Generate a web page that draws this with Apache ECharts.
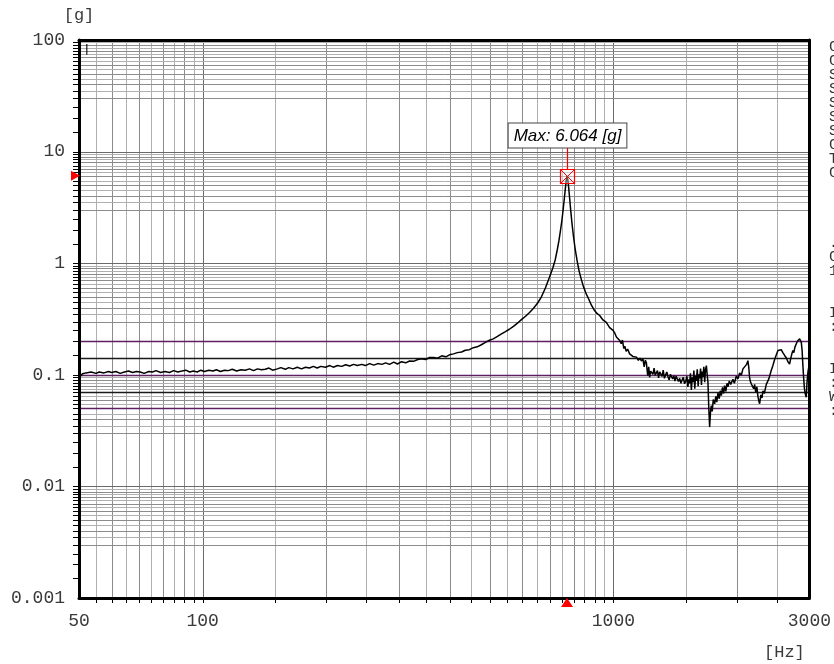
<!DOCTYPE html>
<html><head><meta charset="utf-8">
<script src="https://cdn.jsdelivr.net/npm/echarts@6/dist/echarts.min.js"></script>
<style>html,body{margin:0;padding:0;background:#fff}#c{width:834px;height:664px}</style>
</head><body><div id="c"></div>
<script>
// ---- data ----
const freqHz = [
  50, 51, 52, 53.5, 55, 56, 57.5, 59, 60, 61.5, 63, 64.5, 66, 67.5, 69, 70.5, 72, 74, 75.5, 77,
  79, 81, 83, 85, 87, 89, 91, 93, 95, 97, 99,
  101, 103.5, 106, 108, 110.5, 113, 115.5, 118, 121, 124, 127, 130, 133, 136, 139, 142, 145, 148, 152, 155,
  159, 162, 166, 170, 174, 178, 182, 186, 190, 194, 199,
  204, 208, 213, 218, 223, 228, 233, 238, 244, 249, 255, 261, 267, 273, 279, 285, 292, 298, 305, 312,
  319, 326, 334, 341, 349, 357, 365, 373, 382, 391, 399,
  408, 417, 427, 436, 446, 456, 466, 477, 488, 499, 510, 522, 534, 546, 558, 571, 584, 597, 611, 625,
  639, 654, 668, 683, 698, 713, 722, 730, 737, 743, 749, 755, 760, 764, 768, 771, 774, 778, 782, 787,
  793, 800, 808, 816, 825, 835, 845, 857, 870, 884, 898, 912, 926, 943, 961, 979, 998,
  1008, 1017, 1027, 1036, 1045, 1052, 1060, 1066, 1074, 1083, 1095, 1104, 1115, 1126, 1138, 1150, 1160, 1170, 1180, 1188,
  1196, 1203, 1212, 1219,
  1225, 1232, 1240, 1248, 1256, 1264, 1272, 1280, 1288, 1296, 1305, 1314, 1322, 1331, 1340, 1349, 1358, 1367, 1376, 1385,
  1394, 1403, 1412, 1421, 1430, 1440, 1450, 1460, 1470, 1480, 1490, 1500, 1510, 1518, 1526, 1533, 1540, 1548, 1556, 1563,
  1570, 1578, 1585, 1592, 1600, 1608, 1615, 1622, 1630, 1638, 1645, 1652, 1660, 1668, 1676, 1684, 1692, 1699,
  1707, 1715, 1723, 1731, 1740, 1750, 1764, 1775, 1785, 1797, 1810, 1820, 1831, 1843, 1855, 1865, 1878, 1890, 1900, 1915,
  1930, 1954, 1970, 1991, 2010, 2029, 2048, 2067, 2090, 2110, 2125, 2135, 2145, 2155, 2166, 2180, 2195, 2207, 2220, 2235,
  2248, 2260, 2270, 2285, 2300, 2312, 2330, 2356, 2375, 2390, 2400, 2420, 2445, 2470, 2490, 2515, 2540, 2562, 2585, 2611,
  2635, 2660, 2685, 2700, 2720, 2735, 2750, 2765, 2788, 2805, 2825, 2840, 2855, 2867, 2880, 2893, 2904, 2918, 2930, 2948,
  2960, 2975, 2990, 3000
];
const accelG = [
  0.094, 0.102, 0.104, 0.106, 0.103, 0.106, 0.104, 0.107, 0.105, 0.107, 0.103, 0.106, 0.108, 0.105, 0.107, 0.106, 0.103, 0.107, 0.106, 0.109,
  0.105, 0.107, 0.105, 0.109, 0.106, 0.108, 0.110, 0.106, 0.108, 0.106, 0.110,
  0.107, 0.110, 0.108, 0.111, 0.107, 0.110, 0.109, 0.112, 0.108, 0.111, 0.110, 0.113, 0.109, 0.113, 0.111, 0.112, 0.115, 0.110, 0.113, 0.116,
  0.112, 0.116, 0.113, 0.117, 0.113, 0.117, 0.115, 0.119, 0.115, 0.119, 0.117,
  0.121, 0.117, 0.121, 0.119, 0.123, 0.120, 0.124, 0.121, 0.124, 0.121, 0.126, 0.122, 0.126, 0.124, 0.128, 0.124, 0.130, 0.125, 0.131, 0.128,
  0.133, 0.132, 0.137, 0.139, 0.137, 0.143, 0.143, 0.141, 0.148, 0.145, 0.151,
  0.154, 0.158, 0.160, 0.166, 0.168, 0.175, 0.178, 0.186, 0.195, 0.204, 0.210, 0.221, 0.233, 0.244, 0.256, 0.272, 0.290, 0.312, 0.335, 0.362,
  0.395, 0.44, 0.50, 0.60, 0.74, 0.92, 1.08, 1.32, 1.6, 1.95, 2.4, 3.1, 3.9, 4.7, 5.6, 6.064, 5.7, 4.8, 3.9, 3.0,
  2.25, 1.7, 1.3, 1.05, 0.85, 0.72, 0.62, 0.54, 0.48, 0.42, 0.38, 0.355, 0.34, 0.31, 0.295, 0.265, 0.25,
  0.236, 0.218, 0.225, 0.203, 0.19, 0.205, 0.172, 0.18, 0.162, 0.17, 0.154, 0.16, 0.146, 0.152, 0.144, 0.135, 0.141, 0.133, 0.139, 0.118,
  0.135, 0.128, 0.098, 0.118,
  0.095, 0.108, 0.112, 0.101, 0.115, 0.099, 0.104, 0.109, 0.094, 0.106, 0.103, 0.097, 0.11, 0.093, 0.1, 0.106, 0.096, 0.09, 0.101, 0.104,
  0.092, 0.098, 0.088, 0.097, 0.101, 0.087, 0.093, 0.084, 0.09, 0.095, 0.083, 0.088, 0.097, 0.078, 0.091, 0.084, 0.103, 0.073, 0.095, 0.086,
  0.109, 0.075, 0.098, 0.088, 0.112, 0.079, 0.101, 0.093, 0.114, 0.081, 0.107, 0.096, 0.118, 0.086, 0.112, 0.121, 0.099, 0.085,
  0.05, 0.034, 0.046, 0.053, 0.047, 0.06, 0.055, 0.064, 0.057, 0.069, 0.061, 0.072, 0.065, 0.077, 0.068, 0.08, 0.071, 0.084, 0.078, 0.088,
  0.082, 0.091, 0.084, 0.097, 0.092, 0.104, 0.099, 0.113, 0.109, 0.124, 0.134, 0.118, 0.095, 0.087, 0.083, 0.086, 0.075, 0.082, 0.07, 0.078,
  0.064, 0.058, 0.055, 0.066, 0.062, 0.072, 0.068, 0.082, 0.079, 0.092, 0.095, 0.108, 0.121, 0.138, 0.15, 0.165, 0.171, 0.168, 0.158, 0.149,
  0.142, 0.131, 0.125, 0.138, 0.155, 0.165, 0.158, 0.176, 0.19, 0.2, 0.205, 0.21, 0.206, 0.195, 0.165, 0.12, 0.095, 0.075, 0.068, 0.063,
  0.085, 0.105, 0.118, 0.125
];
const xTickLabels = [50, 100, 1000, 3000];
const yTickLabels = [0.001, 0.01, 0.1, 1, 10, 100];
const peakFreq = [771];
const peakValue = [6.064];
const purpleRefLines = [0.2, 0.1, 0.05];
const blackRefLines = [0.1414, 0.0707];
const sideTextRows = ['C', 'C', 'S', 'S', 'S', 'S', 'S', 'C', 'T', 'C', '', '', '', '', '.', 'C', '1', '', '', 'I', ':', '', '', 'I', ':', 'W', ':'];

// ---- axis extents & grid structure ----
const X_MIN = 50, X_MAX = 3000, Y_MIN = 0.001, Y_MAX = 100;
const halfSteps = [1.5, 2, 2.5, 3, 3.5, 4, 4.5, 5, 5.5, 6, 6.5, 7, 7.5, 8, 8.5, 9, 9.5];
const xGrid = [];
[10, 100, 1000].forEach(d => {
  [1].concat(halfSteps).forEach(m => { const v = m * d; if (v > X_MIN && v < X_MAX) xGrid.push([v, 1, m === 1 ? 2 : (Number.isInteger(m) ? 1 : 0)]); });
});
const yGrid = [];
const yTicks = [];
[0.001, 0.01, 0.1, 1, 10].forEach(d => {
  if (d > Y_MIN) yGrid.push([X_MIN, d, 2]);
  halfSteps.forEach(m => {
    const v = +(m * d).toPrecision(3);
    if (m >= 3) yGrid.push([X_MIN, v, Number.isInteger(m) ? 1 : 0]);
    yTicks.push([X_MIN, v]);
  });
  if (d > Y_MIN) yTicks.push([X_MIN, d]);
});
const refLines = purpleRefLines.map(v => [X_MIN, v, 1]).concat(blackRefLines.map(v => [X_MIN, v, 0]));

const crisp = v => Math.round(v) + 0.5;
const gridColors = ['#b0b0b0', '#8c8c8c', '#6a6a6a'];

function renderVGrid(params, api) {
  const v = api.value(0), kind = api.value(2);
  const a = api.coord([v, Y_MAX]), b = api.coord([v, Y_MIN]);
  const x = crisp(a[0]);
  return { type: 'group', children: [
    { type: 'line', shape: { x1: x, y1: a[1], x2: x, y2: b[1] }, style: { stroke: gridColors[kind], lineWidth: 1 } },
    { type: 'line', shape: { x1: x, y1: b[1], x2: x, y2: b[1] + 5 }, style: { stroke: '#000', lineWidth: 1 } }
  ] };
}
function renderHGrid(params, api) {
  const v = api.value(1), kind = api.value(2);
  const a = api.coord([X_MIN, v]), b = api.coord([X_MAX, v]);
  const y = crisp(a[1]);
  return { type: 'line', shape: { x1: a[0], y1: y, x2: b[0], y2: y }, style: { stroke: gridColors[kind], lineWidth: 1 } };
}
function renderYTick(params, api) {
  const p = api.coord([X_MIN, api.value(1)]);
  const y = crisp(p[1]);
  return { type: 'line', shape: { x1: p[0] - 6, y1: y, x2: p[0], y2: y }, style: { stroke: '#000', lineWidth: 1 } };
}
function renderRef(params, api) {
  const v = api.value(1), purple = api.value(2);
  const a = api.coord([X_MIN, v]), b = api.coord([X_MAX, v]);
  const y = Math.round(a[1]) + 0.5;
  return { type: 'line', shape: { x1: a[0], y1: y, x2: b[0], y2: y },
    style: { stroke: purple ? '#5e1f63' : '#1a1a1a', lineWidth: purple ? 1.6 : 1.3 } };
}
function renderPeak(params, api) {
  const f = api.value(0), g = api.value(1);
  const p = api.coord([f, g]);
  const pb = api.coord([f, Y_MIN]);
  const pl = api.coord([X_MIN, g]);
  const s = 7, red = '#ff0000';
  const cx = Math.round(p[0]) + 0.5, cy = Math.round(p[1]) + 0.5;
  const labelBottom = cy - s - 22;
  return { type: 'group', children: [
    { type: 'rect', shape: { x: cx - s, y: cy - s, width: 2 * s, height: 2 * s }, style: { fill: 'rgba(255,255,255,0.35)', stroke: red, lineWidth: 1.2 } },
    { type: 'line', shape: { x1: cx - s, y1: cy - s, x2: cx + s, y2: cy + s }, style: { stroke: red, lineWidth: 1 } },
    { type: 'line', shape: { x1: cx + s, y1: cy - s, x2: cx - s, y2: cy + s }, style: { stroke: red, lineWidth: 1 } },
    { type: 'line', shape: { x1: cx, y1: cy - s, x2: cx, y2: labelBottom }, style: { stroke: red, lineWidth: 1.2 } },
    { type: 'text', x: cx, y: labelBottom, style: {
        text: 'Max: ' + g.toFixed(3) + ' [g]', fill: '#000',
        font: 'italic 17px "Liberation Sans", Arial, sans-serif',
        align: 'center', verticalAlign: 'bottom',
        backgroundColor: '#fff', borderColor: '#444', borderWidth: 1, padding: [4, 5, 3, 5] } },
    { type: 'polygon', shape: { points: [[pl[0] + 1, pl[1]], [pl[0] - 8, pl[1] - 5], [pl[0] - 8, pl[1] + 5]] }, style: { fill: red } },
    { type: 'polygon', shape: { points: [[pb[0], pb[1]], [pb[0] - 6, pb[1] + 9], [pb[0] + 6, pb[1] + 9]] }, style: { fill: red } }
  ] };
}

const monoFont = '"Liberation Mono", "Courier New", monospace';
const frameLine = { show: true, onZero: false, lineStyle: { color: '#000', width: 3 } };

const chart = echarts.init(document.getElementById('c'), null, { renderer: 'canvas' });
chart.setOption({
  animation: false,
  backgroundColor: '#fff',
  grid: { left: 79, right: 23, top: 40, bottom: 66, containLabel: false },
  xAxis: [
    { type: 'log', logBase: 10, min: X_MIN, max: X_MAX, position: 'bottom', z: 10,
      axisLine: frameLine, axisTick: { show: false }, splitLine: { show: false }, minorSplitLine: { show: false },
      axisLabel: { customValues: xTickLabels, margin: 14, color: '#3a3a3a', fontFamily: monoFont, fontSize: 18,
        formatter: v => String(Math.round(v)) },
      name: '[Hz]', nameLocation: 'end', nameGap: -25,
      nameTextStyle: { fontFamily: monoFont, fontSize: 17, color: '#3a3a3a', align: 'center', verticalAlign: 'top', padding: [46, 0, 0, 0] } },
    { type: 'log', logBase: 10, min: X_MIN, max: X_MAX, position: 'top', z: 10,
      axisLine: frameLine, axisTick: { show: false }, axisLabel: { show: false }, splitLine: { show: false } }
  ],
  yAxis: [
    { type: 'log', logBase: 10, min: Y_MIN, max: Y_MAX, position: 'left', z: 10,
      axisLine: frameLine, axisTick: { show: false }, splitLine: { show: false },
      axisLabel: { customValues: yTickLabels, margin: 14, color: '#3a3a3a', fontFamily: monoFont, fontSize: 18,
        formatter: v => { const e = Math.round(Math.log10(v)); return e >= 0 ? String(Math.pow(10, e)) : Math.pow(10, e).toFixed(-e); } },
      name: '[g]', nameLocation: 'end', nameGap: 16,
      nameTextStyle: { fontFamily: monoFont, fontSize: 17, color: '#3a3a3a', align: 'center' } },
    { type: 'log', logBase: 10, min: Y_MIN, max: Y_MAX, position: 'right', z: 10,
      axisLine: frameLine, axisTick: { show: false }, axisLabel: { show: false }, splitLine: { show: false } }
  ],
  series: [
    { type: 'custom', name: 'xGrid', renderItem: renderVGrid, data: xGrid, encode: { x: 0, y: 1 }, silent: true, z: 1 },
    { type: 'custom', name: 'yGrid', renderItem: renderHGrid, data: yGrid, encode: { x: 0, y: 1 }, silent: true, z: 1 },
    { type: 'custom', name: 'yTicks', renderItem: renderYTick, data: yTicks, encode: { x: 0, y: 1 }, silent: true, z: 1 },
    { type: 'custom', name: 'refLines', renderItem: renderRef, data: refLines, encode: { x: 0, y: 1 }, silent: true, z: 2 },
    { type: 'line', name: 'Response', data: freqHz.map((f, i) => [f, accelG[i]]), showSymbol: false, symbol: 'none',
      lineStyle: { color: '#000', width: 1.5 }, z: 5, silent: true, clip: true },
    { type: 'custom', name: 'peak', renderItem: renderPeak, data: peakFreq.map((f, i) => [f, peakValue[i]]),
      encode: { x: 0, y: 1 }, silent: true, z: 20 }
  ],
  graphic: [
    { type: 'text', left: 829, top: 40, z: 30, style: { text: sideTextRows.join('\n'), font: '15px ' + monoFont, lineHeight: 14, fill: '#333' } },
    { type: 'text', left: 85, top: 44, z: 30, style: { text: '|', font: 'bold 10px "DejaVu Sans"', fill: '#000' } }
  ]
});
</script>
</body></html>
